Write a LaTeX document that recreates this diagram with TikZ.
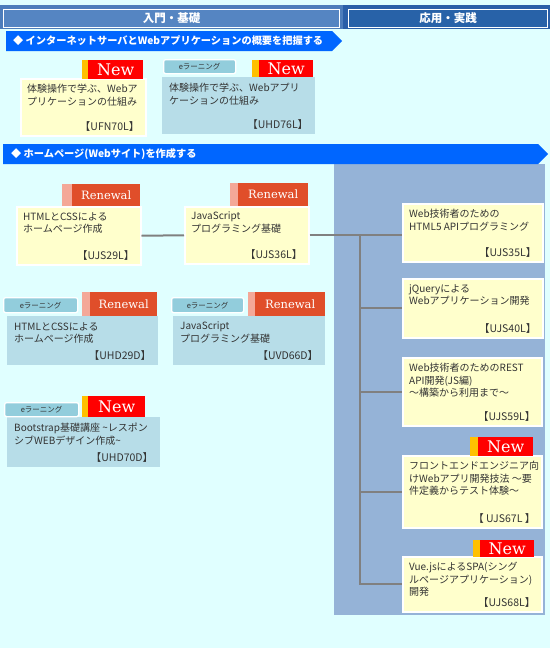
\documentclass[tikz,border=0pt]{standalone}
\usepackage{fontspec}
\setmainfont{Noto Sans CJK JP}
\newfontfamily\badgefont{DejaVu Serif}
\definecolor{bgC}{HTML}{E0FFFF}
\definecolor{bandL}{HTML}{4D7DBB}
\definecolor{bandR}{HTML}{2A5FA8}
\definecolor{hdrL}{HTML}{5585C2}
\definecolor{hdrR}{HTML}{2862A8}
\definecolor{ribC}{HTML}{0066FF}
\definecolor{yelC}{HTML}{FFFFCC}
\definecolor{bluC}{HTML}{B7DDE8}
\definecolor{tagC}{HTML}{92CDDC}
\definecolor{newR}{HTML}{FF0000}
\definecolor{newO}{HTML}{FFC000}
\definecolor{renR}{HTML}{E04E2A}
\definecolor{renP}{HTML}{F4A898}
\definecolor{regC}{HTML}{95B3D7}
\definecolor{connC}{HTML}{808080}
\definecolor{txtC}{HTML}{333333}
\tikzset{
  ybox/.style={fill=yelC, draw=white, line width=1.5pt, inner sep=0, anchor=north west},
  bbox/.style={fill=bluC, draw=none, inner sep=0, anchor=north west},
  txt/.style={anchor=north west, inner sep=0, align=left, text=txtC, font=\fontsize{10}{12.5}\selectfont},
  codetxt/.style={anchor=south east, inner sep=0, text=txtC, font=\fontsize{10.5}{12}\selectfont},
  tagbox/.style={fill=tagC, draw=white, line width=1.3pt, rounded corners=2pt, inner sep=0, anchor=north west, text=txtC, font=\fontsize{7.5}{8}\selectfont},
  newbox/.style={fill=newR, text=white, font=\badgefont\fontsize{16}{16}\selectfont, inner sep=0, anchor=north west},
  renbox/.style={fill=renR, text=white, font=\badgefont\fontsize{11.5}{12}\selectfont, inner sep=0, anchor=north west},
  hdrbox/.style={draw=white, line width=1pt, inner sep=0, anchor=north west, text=white, font=\bfseries\fontsize{11.5}{12}\selectfont},
  ribtxt/.style={anchor=west, inner sep=0, text=white, font=\bfseries\fontsize{10.2}{11}\selectfont},
  conn/.style={draw=connC, line width=2pt},
}
\newcommand\course[8]{%
  \node[#6, minimum width=#4pt-#2pt, minimum height=#5pt-#3pt] (#1) at (#2,#3) {};
  \node[txt] (#1-t) at ([xshift=7pt,yshift=-6pt]#1.north west) {#7};
  \node[codetxt] (#1-c) at ([xshift=-7pt,yshift=5pt]#1.south east) {#8};
}
\newcommand\etag[5]{%
  \node[tagbox, minimum width=#4pt-#2pt, minimum height=#5pt-#3pt] (#1) at (#2,#3) {eラーニング};
}
\newcommand\newbadge[6]{%
  \fill[newO] (#2,#5) rectangle (#3,#6);
  \node[newbox, minimum width=#4pt-#3pt, minimum height=#6pt-#5pt] (#1) at (#3,#5) {New};
}
\newcommand\renbadge[6]{%
  \fill[renP] (#2,#5) rectangle (#3,#6);
  \node[renbox, minimum width=#4pt-#3pt, minimum height=#6pt-#5pt] (#1) at (#3,#5) {Renewal};
}
\begin{document}
\begin{tikzpicture}[x=1pt,y=-1pt]
\useasboundingbox (0,0) rectangle (550,648);
\fill[bgC] (0,0) rectangle (550,648);
% header band
\fill[bandL] (0,5) rectangle (343,29);
\fill[bandR] (343,5) rectangle (550,29);
\node[hdrbox, fill=hdrL, minimum width=336pt, minimum height=18pt] (hL) at (3,9) {入門・基礎};
\node[hdrbox, fill=hdrR, minimum width=199pt, minimum height=18pt] (hR) at (348,9) {応用・実践};
% ribbon 1
\fill[ribC] (6,31) -- (332,31) -- (342,41) -- (332,51) -- (6,51) -- cycle;
\node[ribtxt] (r1) at (13,41) {◆ インターネットサーバとWebアプリケーションの概要を把握する};
% ribbon 2 and right region
\fill[regC] (334,164) rectangle (545,615);
\fill[ribC] (3,144) -- (538,144) -- (548,154) -- (538,164) -- (3,164) -- cycle;
\node[ribtxt] (r2) at (11,154) {◆ ホームページ(Webサイト)を作成する};
% row 1
\course{UFN70L}{20}{78}{145}{135}{ybox}{体験操作で学ぶ、Webア\\プリケーションの仕組み}{【UFN70L】}
\newbadge{nb1}{82}{88}{143}{60}{79}
\course{UHD76L}{162}{77}{315}{134}{bbox}{体験操作で学ぶ、Webアプリ\\ケーションの仕組み}{【UHD76L】}
\etag{tg1}{163}{59}{235}{73}
\newbadge{nb2}{252}{259}{313}{60}{77}
% row 2
\course{UJS29L}{16}{206}{140}{264}{ybox}{HTMLとCSSによる\\ホームページ作成}{【UJS29L】}
\renbadge{rb1}{62}{72}{140}{184}{206}
\course{UJS36L}{184}{206}{308}{263}{ybox}{JavaScript\\プログラミング基礎}{【UJS36L】}
\renbadge{rb2}{230}{238}{308}{183}{206}
% row 3
\course{UHD29D}{7}{316}{158}{365}{bbox}{HTMLとCSSによる\\ホームページ作成}{【UHD29D】}
\etag{tg2}{3}{297}{77}{312}
\renbadge{rb3}{82}{90}{157}{292}{316}
\course{UVD66D}{173}{316}{325}{365}{bbox}{JavaScript\\プログラミング基礎}{【UVD66D】}
\etag{tg3}{171}{297}{243}{312}
\renbadge{rb4}{248}{255}{325}{292}{316}
% row 4
\course{UHD70D}{7}{417}{160}{467}{bbox}{Bootstrap基礎講座 \textasciitilde レスポン\\シブWEBデザイン作成\textasciitilde}{【UHD70D】}
\etag{tg4}{4}{402}{78}{416}
\newbadge{nb3}{82}{88}{145}{396}{417}
% right column
\course{UJS35L}{402}{203}{542}{261}{ybox}{Web技術者のための\\HTML5 APIプログラミング}{【UJS35L】}
\course{UJS40L}{402}{278}{542}{337}{ybox}{jQueryによる\\Webアプリケーション開発}{【UJS40L】}
\course{UJS59L}{402}{357}{541}{425}{ybox}{Web技術者のためのREST\\API開発(JS編)\\～構築から利用まで～}{【UJS59L】}
\course{UJS67L}{402}{455}{541}{527}{ybox}{フロントエンドエンジニア向\\けWebアプリ開発技法 ～要\\件定義からテスト体験～}{【 UJS67L 】}
\newbadge{nb4}{470}{478}{533}{437}{456}
\course{UJS68L}{402}{556}{541}{611}{ybox}{Vue.jsによるSPA(シング\\ルページアプリケーション)\\開発}{【UJS68L】}
\newbadge{nb5}{473}{480}{534}{540}{557}
% connectors
\draw[conn] (UJS29L.east) -- (UJS36L.west);
\draw[conn] (UJS36L.east) -- (UJS36L.east -| UJS35L.west);
\coordinate (trunk) at (360,234.5);
\draw[conn] (trunk) |- (UJS68L.west);
\draw[conn] (trunk |- UJS40L.west) -- (UJS40L.west);
\draw[conn] (trunk |- UJS59L.west) -- (UJS59L.west);
\draw[conn] (trunk |- UJS67L.west) -- (UJS67L.west);
\end{tikzpicture}
\end{document}
